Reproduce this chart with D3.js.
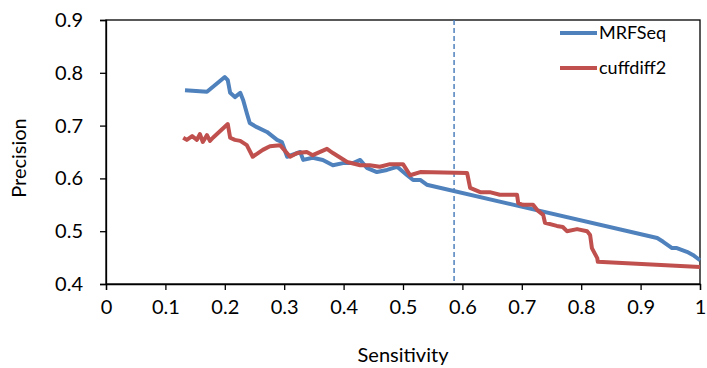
<!DOCTYPE html>
<html><head><meta charset="utf-8">
<script src="https://cdn.jsdelivr.net/npm/d3@7/dist/d3.min.js"></script>
<style>body{margin:0;background:#fff}svg{display:block}</style>
</head><body><svg id="c" width="707" height="368"></svg>
<script>
const xTicks = [0,0.1,0.2,0.3,0.4,0.5,0.6,0.7,0.8,0.9,1];
const xTickLabels = ["0","0.1","0.2","0.3","0.4","0.5","0.6","0.7","0.8","0.9","1"];
const yTicks = [0.4,0.5,0.6,0.7,0.8,0.9];
const yTickLabels = ["0.4","0.5","0.6","0.7","0.8","0.9"];
const seriesNames = ["MRFSeq","cuffdiff2"];
const cutoff = 0.586;

const mrfSens = [0.133,0.170,0.200,0.205,0.209,0.217,0.226,0.231,0.237,0.242,0.254,0.271,0.288,0.296,0.305,0.327,0.332,0.348,0.365,0.382,0.399,0.416,0.428,0.439,0.456,0.473,0.490,0.507,0.517,0.529,0.540,0.928,0.938,0.953,0.961,0.978,0.988,1.0];
const mrfPrec = [0.767,0.764,0.792,0.786,0.762,0.754,0.762,0.748,0.724,0.705,0.697,0.688,0.673,0.669,0.641,0.650,0.635,0.639,0.635,0.625,0.629,0.629,0.635,0.620,0.612,0.616,0.622,0.606,0.597,0.597,0.588,0.487,0.480,0.468,0.468,0.461,0.455,0.445];

const cuffSens = [0.130,0.136,0.145,0.153,0.158,0.163,0.170,0.175,0.180,0.205,0.209,0.217,0.226,0.237,0.247,0.264,0.276,0.293,0.310,0.322,0.338,0.348,0.372,0.382,0.406,0.428,0.444,0.461,0.478,0.500,0.512,0.529,0.608,0.613,0.630,0.646,0.663,0.692,0.694,0.702,0.719,0.726,0.736,0.739,0.759,0.769,0.776,0.793,0.810,0.815,0.818,0.827,0.828,1.0];
const cuffPrec = [0.677,0.673,0.680,0.673,0.684,0.669,0.682,0.671,0.677,0.703,0.677,0.673,0.671,0.663,0.641,0.654,0.661,0.663,0.641,0.648,0.650,0.644,0.656,0.648,0.631,0.625,0.625,0.622,0.627,0.627,0.606,0.612,0.610,0.582,0.574,0.574,0.569,0.569,0.553,0.550,0.550,0.540,0.531,0.516,0.510,0.508,0.500,0.504,0.500,0.493,0.468,0.449,0.442,0.432];

const colors = ["#4F81BD","#C0504D"];
const font = "Lato, 'Open Sans', sans-serif";

const L=106, R=700, T=20, B=284;
const x = d3.scaleLinear().domain([0,1]).range([L,R]);
const y = d3.scaleLinear().domain([0.4,0.9]).range([B,T]);
const svg = d3.select("#c");

svg.append("rect").attr("x",L).attr("y",T).attr("width",R-L).attr("height",B-T)
  .attr("fill","none").attr("stroke","#000").attr("stroke-width",1.3);

const xa = svg.append("g").attr("transform",`translate(0,${B})`)
  .call(d3.axisBottom(x).tickValues(xTicks).tickFormat((d,i)=>xTickLabels[i]).tickSizeOuter(0).tickSize(6).tickPadding(10));
const ya = svg.append("g").attr("transform",`translate(${L},0)`)
  .call(d3.axisLeft(y).tickValues(yTicks).tickFormat((d,i)=>yTickLabels[i]).tickSizeOuter(0).tickSize(6).tickPadding(17));
[xa,ya].forEach(a=>{
  a.selectAll("path").attr("stroke","#000").attr("stroke-width",1.3);
  a.selectAll("line").attr("stroke","#000").attr("stroke-width",1.3);
  a.selectAll("text").attr("font-family",font).attr("font-size",20).attr("fill","#000");
});

svg.append("line").attr("x1",x(cutoff)).attr("x2",x(cutoff)).attr("y1",T).attr("y2",B)
  .attr("stroke","#4F81BD").attr("stroke-width",1.5).attr("stroke-dasharray","5,3");

const line = d3.line().x(d=>x(d[0])).y(d=>y(d[1]));
const data = [d3.zip(mrfSens,mrfPrec), d3.zip(cuffSens,cuffPrec)];
data.forEach((d,i)=>{
  svg.append("path").datum(d).attr("d",line).attr("fill","none")
    .attr("stroke",colors[i]).attr("stroke-width",4).attr("stroke-linejoin","round");
});

seriesNames.forEach((n,i)=>{
  const ly = 33 + i*35;
  svg.append("line").attr("x1",560).attr("x2",597).attr("y1",ly).attr("y2",ly)
    .attr("stroke",colors[i]).attr("stroke-width",4);
  svg.append("text").attr("x",599).attr("y",ly).attr("dy","0.35em")
    .attr("font-family",font).attr("font-size",18).attr("fill","#000").text(n);
});

svg.append("text").attr("x",403).attr("y",362).attr("text-anchor","middle")
  .attr("font-family",font).attr("font-size",20).attr("fill","#000").text("Sensitivity");
svg.append("text").attr("transform","translate(26,158) rotate(-90)").attr("text-anchor","middle")
  .attr("font-family",font).attr("font-size",20).attr("fill","#000").text("Precision");
</script></body></html>
